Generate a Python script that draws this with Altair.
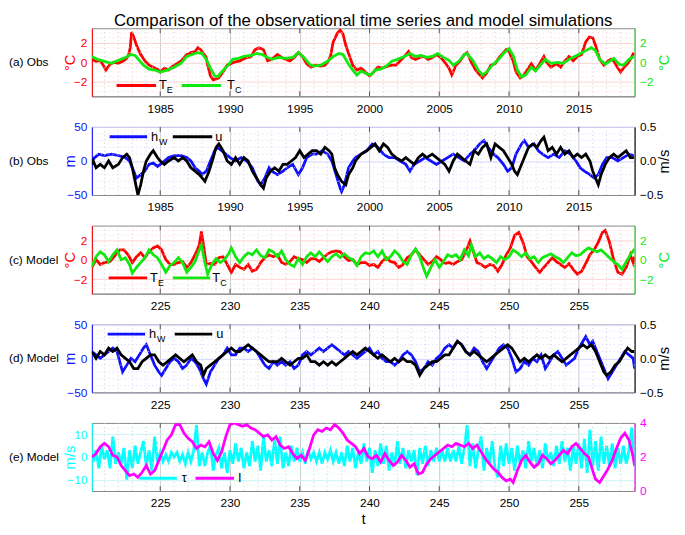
import altair as alt
import pandas as pd

TITLE = "Comparison of the observational time series and model simulations"
YEAR_TICKS = [1985, 1990, 1995, 2000, 2005, 2010, 2015]
MODEL_TICKS = [225, 230, 235, 240, 245, 250, 255]
OBS_DOMAIN = [1980.1, 2019.0]
MODEL_DOMAIN = [220.1, 259.0]

# ---------------- (a) observed SST anomalies (degC) ----------------
TE_OBS = [(1980.1,0.3),(1980.4,0.1),(1980.7,0.2),(1981.0,-0.5),(1981.1,-0.8),(1981.4,-0.2),(1981.7,0.0),
          (1982.0,-0.1),(1982.3,0.1),(1982.5,0.3),(1982.7,0.6),(1982.85,1.5),(1982.95,3.1),(1983.1,2.6),
          (1983.3,1.75),(1983.6,0.8),(1983.9,0.15),(1984.2,-0.3),(1984.5,-0.5),(1984.8,-0.7),(1985.0,-1.0),
          (1985.3,-0.6),(1985.6,-0.8),(1985.9,-0.4),(1986.2,-0.15),(1986.5,0.15),(1986.9,0.8),(1987.2,1.0),
          (1987.5,1.1),(1987.7,1.5),(1987.9,1.3),(1988.3,0.5),(1988.4,-0.3),(1988.6,-1.4),(1988.8,-1.8),
          (1989.0,-1.7),(1989.2,-1.6),(1989.5,-1.0),(1989.8,-0.3),(1990.3,0.0),(1990.7,0.15),(1991.2,0.5),
          (1991.5,0.55),(1991.8,1.3),(1992.1,1.5),(1992.4,1.3),(1992.7,0.15),(1993.0,0.3),(1993.4,0.8),
          (1993.7,0.5),(1994.0,0.3),(1994.3,0.15),(1994.6,0.5),(1994.9,1.0),(1995.2,0.6),(1995.5,-0.15),
          (1995.8,-0.5),(1996.1,-0.3),(1996.5,-0.4),(1996.8,-0.3),(1997.0,0.0),(1997.2,0.6),(1997.4,2.1),
          (1997.7,3.0),(1997.9,3.3),(1998.1,2.9),(1998.3,1.75),(1998.6,0.5),(1998.8,-0.3),(1999.1,-0.8),
          (1999.4,-0.6),(1999.7,-1.0),(2000.0,-1.4),(2000.3,-1.0),(2000.6,-0.5),(2000.9,-0.6),(2001.3,-0.4),
          (2001.6,-0.3),(2001.9,-0.3),(2002.2,0.15),(2002.5,0.6),(2002.8,1.1),(2003.0,0.5),(2003.3,0.3),
          (2003.6,0.5),(2003.9,0.6),(2004.2,0.3),(2004.5,0.5),(2004.8,0.8),(2005.1,0.5),(2005.4,0.0),
          (2005.7,-0.6),(2005.9,-1.3),(2006.2,-0.3),(2006.5,0.15),(2006.8,0.8),(2007.0,1.0),(2007.3,0.0),
          (2007.6,-0.8),(2007.9,-1.3),(2008.1,-1.6),(2008.4,-1.1),(2008.7,-0.3),(2009.0,-0.15),(2009.3,0.5),
          (2009.6,1.0),(2009.8,1.3),(2010.0,1.1),(2010.3,0.15),(2010.5,-1.0),(2010.8,-1.6),(2011.0,-1.45),
          (2011.3,-0.8),(2011.6,-0.15),(2011.9,-0.8),(2012.2,-0.15),(2012.5,0.6),(2012.7,0.0),(2013.0,-0.5),
          (2013.4,-0.15),(2013.7,-0.5),(2014.0,0.15),(2014.3,0.6),(2014.6,0.15),(2014.9,0.6),(2015.2,0.8),
          (2015.5,2.1),(2015.75,2.6),(2016.0,2.5),(2016.2,1.75),(2016.5,0.3),(2016.8,-0.3),(2017.1,0.15),
          (2017.3,0.3),(2017.5,0.15),(2017.8,-0.6),(2018.0,-1.0),(2018.2,-0.6),(2018.5,-0.15),(2018.7,0.3),
          (2018.95,1.0)]

TC_OBS = [(1980.1,0.6),(1980.5,0.3),(1981.0,0.1),(1981.5,-0.1),(1982.0,0.2),(1982.5,0.5),(1982.9,0.8),
          (1983.2,0.7),(1983.5,0.2),(1983.8,-0.3),(1984.2,-0.7),(1984.6,-0.8),(1985.0,-1.0),(1985.5,-0.8),
          (1986.0,-0.5),(1986.5,-0.1),(1986.9,0.6),(1987.3,0.8),(1987.7,1.0),(1988.0,0.9),(1988.3,0.3),
          (1988.6,-0.6),(1988.9,-1.4),(1989.1,-1.5),(1989.4,-1.0),(1989.8,-0.4),(1990.2,0.3),(1990.6,0.4),
          (1991.0,0.6),(1991.5,0.7),(1991.9,0.9),(1992.3,0.8),(1992.7,0.5),(1993.0,0.3),(1993.5,0.5),
          (1994.0,0.4),(1994.5,0.5),(1994.9,1.0),(1995.3,0.5),(1995.7,-0.2),(1996.0,-0.4),(1996.5,-0.3),
          (1997.0,0.1),(1997.4,0.6),(1997.8,0.9),(1998.1,0.8),(1998.5,-0.2),(1998.8,-0.8),(1999.1,-1.3),
          (1999.4,-0.9),(1999.8,-1.2),(2000.1,-1.3),(2000.4,-0.8),(2000.8,-0.7),(2001.2,-0.4),(2001.6,0.1),
          (2002.0,0.3),(2002.5,0.6),(2002.9,0.9),(2003.3,0.6),(2003.7,0.7),(2004.1,0.5),(2004.5,0.6),
          (2004.9,0.9),(2005.3,0.5),(2005.7,0.2),(2006.0,-0.3),(2006.4,0.1),(2006.8,0.8),(2007.0,0.9),
          (2007.4,0.2),(2007.8,-0.8),(2008.1,-1.3),(2008.4,-1.0),(2008.8,-0.3),(2009.2,0.2),(2009.6,0.9),
          (2010.0,1.4),(2010.3,0.7),(2010.6,-0.8),(2010.9,-1.5),(2011.2,-1.3),(2011.6,-0.5),(2011.9,-0.9),
          (2012.3,-0.2),(2012.6,0.3),(2013.0,-0.1),(2013.5,0.0),(2013.9,-0.1),(2014.3,0.3),(2014.7,0.6),
          (2015.0,0.8),(2015.5,1.2),(2015.9,1.5),(2016.2,1.2),(2016.5,0.3),(2016.9,-0.2),(2017.2,0.1),
          (2017.5,0.4),(2017.9,-0.2),(2018.2,-0.3),(2018.6,0.3),(2018.95,0.6)]

# ---------------- (b) observed thermocline depth (m) and current (m/s) ----------------
HW_OBS = [(1980.1,0),(1980.3,5),(1980.6,10),(1981.0,8),(1981.5,10),(1982.0,8),(1982.5,5),(1982.8,0),
          (1983.0,-10),(1983.3,-25),(1983.6,-20),(1983.9,-15),(1984.2,-5),(1984.5,-3),(1984.8,-8),(1985.0,-5),
          (1985.3,0),(1985.6,5),(1986.0,8),(1986.5,8),(1986.9,5),(1987.2,0),(1987.5,-10),(1987.8,-15),
          (1988.0,-20),(1988.3,-15),(1988.6,0),(1988.9,15),(1989.1,20),(1989.4,15),(1989.7,10),(1990.0,5),
          (1990.4,0),(1990.8,5),(1991.2,0),(1991.6,-10),(1992.0,-30),(1992.2,-35),(1992.5,-25),(1992.8,-10),
          (1993.0,-15),(1993.4,-20),(1993.8,-15),(1994.1,-10),(1994.5,-5),(1994.9,-20),(1995.2,-10),(1995.5,5),
          (1995.9,10),(1996.2,10),(1996.6,15),(1997.0,10),(1997.3,0),(1997.6,-20),(1997.9,-40),(1998.0,-45),
          (1998.2,-35),(1998.5,-10),(1998.8,0),(1999.0,5),(1999.4,10),(1999.8,15),(2000.2,25),(2000.6,20),
          (2001.0,10),(2001.4,5),(2001.8,5),(2002.2,0),(2002.6,-5),(2002.9,-15),(2003.2,-5),(2003.6,0),
          (2004.0,5),(2004.4,0),(2004.8,-5),(2005.2,0),(2005.6,5),(2006.0,10),(2006.4,5),(2006.8,0),
          (2007.2,10),(2007.5,15),(2007.9,25),(2008.2,30),(2008.5,20),(2008.9,10),(2009.2,5),(2009.6,-5),
          (2009.9,-15),(2010.2,-10),(2010.5,10),(2010.9,25),(2011.1,30),(2011.4,20),(2011.8,25),(2012.1,15),
          (2012.4,10),(2012.8,5),(2013.2,10),(2013.6,5),(2014.0,15),(2014.4,10),(2014.8,0),(2015.1,-10),
          (2015.4,-15),(2015.8,-20),(2016.1,-25),(2016.4,-20),(2016.7,-5),(2017.0,5),(2017.4,5),(2017.8,0),
          (2018.2,5),(2018.6,10),(2018.95,8)]

U_OBS = [(1980.1,-0.05),(1980.2,0.0),(1980.4,-0.10),(1980.7,-0.05),(1981.0,-0.10),(1981.3,0.0),(1981.6,-0.10),
         (1982.0,-0.05),(1982.3,0.05),(1982.6,0.10),(1982.8,0.05),(1983.0,-0.10),(1983.2,-0.30),(1983.4,-0.50),
         (1983.6,-0.35),(1983.8,-0.15),(1984.0,0.0),(1984.3,0.10),(1984.5,0.15),(1984.8,0.05),(1985.0,0.0),
         (1985.3,-0.05),(1985.6,0.0),(1986.0,0.05),(1986.3,0.0),(1986.6,0.05),(1986.9,0.0),(1987.2,-0.10),
         (1987.5,-0.15),(1987.8,-0.20),(1988.0,-0.25),(1988.2,-0.30),(1988.5,-0.15),(1988.8,0.05),(1989.0,0.20),
         (1989.2,0.25),(1989.5,0.15),(1989.8,0.0),(1990.1,-0.05),(1990.4,0.05),(1990.7,-0.05),(1991.0,0.05),
         (1991.3,0.0),(1991.6,-0.15),(1991.9,-0.25),(1992.2,-0.35),(1992.4,-0.40),(1992.6,-0.25),(1992.9,-0.15),
         (1993.2,-0.10),(1993.5,-0.15),(1993.8,-0.05),(1994.1,-0.05),(1994.4,0.0),(1994.7,0.05),(1995.0,0.15),
         (1995.3,0.05),(1995.6,0.10),(1995.9,0.15),(1996.2,0.15),(1996.5,0.10),(1996.8,0.20),(1997.1,0.15),
         (1997.3,0.10),(1997.5,-0.10),(1997.7,-0.20),(1998.0,-0.30),(1998.3,-0.35),(1998.5,-0.20),(1998.8,-0.10),
         (1999.0,0.0),(1999.4,0.10),(1999.8,0.15),(2000.1,0.20),(2000.4,0.25),(2000.7,0.15),(2001.0,0.25),
         (2001.3,0.20),(2001.6,0.10),(2001.9,0.05),(2002.3,0.0),(2002.6,0.05),(2002.9,0.0),(2003.2,-0.05),
         (2003.5,0.05),(2003.8,0.10),(2004.1,0.05),(2004.5,0.10),(2004.8,0.05),(2005.1,0.0),(2005.4,-0.05),
         (2005.7,-0.15),(2006.0,0.0),(2006.3,0.10),(2006.6,0.05),(2006.9,0.0),(2007.2,-0.05),(2007.5,0.15),
         (2007.8,0.10),(2008.1,0.20),(2008.4,0.25),(2008.7,0.05),(2009.0,0.25),(2009.3,0.20),(2009.6,0.15),
         (2009.9,0.05),(2010.2,-0.05),(2010.4,-0.15),(2010.6,-0.20),(2010.8,-0.10),(2011.1,0.05),(2011.4,0.20),
         (2011.7,0.25),(2012.0,0.20),(2012.3,0.30),(2012.5,0.35),(2012.8,0.15),(2013.1,0.20),(2013.4,0.10),
         (2013.7,0.20),(2014.0,0.10),(2014.3,0.15),(2014.6,0.05),(2014.9,0.10),(2015.2,0.05),(2015.5,0.10),
         (2015.8,0.0),(2016.0,-0.15),(2016.2,-0.25),(2016.4,-0.35),(2016.6,-0.20),(2016.9,-0.05),(2017.2,0.05),
         (2017.5,0.10),(2017.8,0.05),(2018.1,0.10),(2018.4,0.15),(2018.7,0.05),(2018.95,0.05)]

# ---------------- (c) model SST anomalies (degC) ----------------
TE_MOD = [(220.1,-0.8),(220.4,0.0),(220.7,-0.5),(221.0,-0.3),(221.4,-0.2),(221.8,0.5),(222.1,1.0),(222.4,1.0),
          (222.7,0.5),(223.0,-0.3),(223.3,0.3),(223.6,0.7),(223.9,0.2),(224.2,0.8),(224.5,1.2),(224.8,1.4),
          (225.1,1.0),(225.4,0.0),(225.7,-0.5),(226.0,-0.5),(226.3,-0.3),(226.6,-0.2),(226.9,-0.8),(227.2,-0.3),
          (227.5,0.5),(227.8,1.5),(227.95,2.9),(228.1,1.5),(228.3,-0.5),(228.6,-0.4),(228.9,-0.5),(229.2,0.2),
          (229.5,0.3),(229.8,-0.5),(230.1,-1.3),(230.4,-0.5),(230.7,-0.8),(231.0,-1.0),(231.3,-0.5),(231.6,-1.2),
          (231.9,-1.0),(232.2,-0.3),(232.5,0.2),(232.8,0.5),(233.1,0.3),(233.4,0.5),(233.7,-0.3),(234.0,-0.5),
          (234.3,-0.2),(234.6,0.3),(234.9,0.1),(235.2,0.0),(235.5,-0.3),(235.8,0.1),(236.1,0.1),(236.4,-0.2),
          (236.7,0.2),(237.0,0.6),(237.3,0.8),(237.6,0.9),(237.9,0.8),(238.2,0.3),(238.5,-0.1),(238.8,0.0),
          (239.1,-0.5),(239.4,-0.3),(239.7,-0.3),(240.0,-0.6),(240.3,-0.5),(240.6,-0.8),(240.9,-0.2),(241.2,0.2),
          (241.5,-0.2),(241.8,-0.3),(242.1,-0.8),(242.4,-0.5),(242.7,0.2),(243.0,0.5),(243.3,1.0),(243.6,0.5),
          (243.9,0.0),(244.2,-0.5),(244.5,-0.2),(244.8,0.3),(245.1,0.0),(245.4,-0.4),(245.7,-0.3),(246.0,-0.5),
          (246.3,-0.2),(246.6,0.0),(246.9,0.8),(247.2,1.9),(247.4,1.0),(247.7,-0.3),(248.0,-0.5),(248.3,-0.8),
          (248.6,-0.5),(248.9,-0.6),(249.2,-1.2),(249.5,-0.5),(249.8,0.5),(250.1,1.2),(250.4,2.5),(250.7,2.8),
          (251.0,1.8),(251.3,0.3),(251.6,-0.2),(251.9,-0.8),(252.2,-1.3),(252.5,-0.8),(252.8,-0.3),(253.1,0.2),
          (253.4,-0.2),(253.7,-0.5),(254.0,-0.8),(254.3,-0.4),(254.6,-1.0),(254.9,-1.5),(255.2,-1.2),(255.5,-0.4),
          (255.8,0.5),(256.1,1.0),(256.4,1.8),(256.7,2.8),(256.9,3.0),(257.2,1.8),(257.5,0.0),(257.8,-1.3),
          (258.1,-1.5),(258.4,-0.8),(258.7,0.5),(258.9,-0.3),(259.0,0.3)]

TC_MOD = [(220.1,-0.7),(220.4,0.3),(220.7,0.8),(221.0,0.5),(221.3,-0.2),(221.6,0.5),(221.9,1.0),(222.2,0.0),
          (222.5,0.2),(222.8,-0.5),(223.0,-1.4),(223.3,-0.8),(223.6,-0.3),(223.9,0.2),(224.2,1.0),(224.5,0.5),
          (224.8,0.2),(225.1,-0.5),(225.4,-1.3),(225.7,-0.6),(226.0,-0.3),(226.3,0.2),(226.6,-0.3),(226.9,-1.3),
          (227.2,-0.8),(227.5,-0.2),(227.8,1.0),(227.95,1.5),(228.2,-0.3),(228.4,-1.5),(228.7,-0.5),(229.0,0.1),
          (229.3,-0.3),(229.6,0.0),(229.9,0.6),(230.1,1.2),(230.4,0.3),(230.7,-0.3),(231.0,0.3),(231.3,0.7),
          (231.6,0.5),(231.9,1.0),(232.2,0.4),(232.5,0.2),(232.8,1.0),(233.1,0.8),(233.4,0.3),(233.7,0.9),
          (234.0,0.0),(234.3,-0.5),(234.6,-0.7),(234.9,0.1),(235.2,-0.5),(235.5,0.3),(235.8,0.7),(236.1,0.3),
          (236.4,0.8),(236.7,0.3),(237.0,-0.2),(237.3,0.3),(237.6,0.6),(237.9,0.2),(238.2,0.6),(238.5,0.2),
          (238.8,0.0),(239.1,-0.6),(239.4,0.3),(239.7,0.7),(240.0,0.6),(240.3,0.9),(240.6,0.3),(240.9,0.9),
          (241.2,0.0),(241.5,0.3),(241.8,0.9),(242.1,0.5),(242.4,-0.2),(242.7,-0.5),(243.0,0.5),(243.3,1.1),
          (243.6,0.3),(243.9,-1.0),(244.1,-1.7),(244.4,-0.8),(244.7,0.0),(245.0,-0.8),(245.3,-0.2),(245.6,0.5),
          (245.9,0.3),(246.2,0.5),(246.5,0.0),(246.8,1.0),(247.1,0.4),(247.3,1.5),(247.6,0.3),(247.9,0.7),
          (248.2,0.1),(248.5,0.4),(248.8,0.1),(249.1,-0.3),(249.4,0.3),(249.7,0.0),(250.0,0.3),(250.3,1.0),
          (250.6,0.7),(250.9,0.3),(251.2,0.7),(251.5,0.1),(251.8,0.3),(252.1,-0.3),(252.4,0.2),(252.7,0.4),
          (253.0,0.6),(253.3,0.3),(253.6,0.1),(253.9,-0.3),(254.2,0.2),(254.5,0.7),(254.8,0.4),(255.1,0.5),
          (255.4,0.9),(255.7,1.2),(256.0,1.0),(256.3,0.8),(256.6,1.0),(256.9,0.6),(257.2,0.2),(257.5,-0.2),
          (257.8,-0.5),(258.1,-1.0),(258.4,-0.2),(258.7,0.5),(259.0,1.1)]

# ---------------- (d) model thermocline depth (m) and current (m/s) ----------------
HW_MOD = [(220.1,10),(220.4,5),(220.7,0),(221.0,5),(221.3,10),(221.6,15),(221.9,10),(222.1,-5),(222.3,-20),
          (222.6,-10),(222.9,0),(223.2,-5),(223.5,5),(223.8,15),(224.0,20),(224.3,5),(224.6,-10),(224.9,-20),
          (225.1,-25),(225.4,-15),(225.7,-5),(226.0,0),(226.3,-5),(226.6,-15),(226.9,-10),(227.2,0),(227.5,-5),
          (227.8,-15),(228.1,-30),(228.3,-38),(228.6,-20),(228.9,-10),(229.2,0),(229.5,5),(229.8,15),(230.1,5),
          (230.4,5),(230.7,15),(231.0,15),(231.3,10),(231.6,15),(231.9,10),(232.2,0),(232.5,-10),(232.8,-15),
          (233.1,-5),(233.4,-10),(233.7,-5),(234.0,-10),(234.3,-5),(234.6,-15),(234.9,-10),(235.2,5),(235.5,10),
          (235.8,5),(236.1,10),(236.4,15),(236.7,10),(237.0,15),(237.3,20),(237.6,15),(237.9,10),(238.2,5),
          (238.5,10),(238.8,5),(239.1,0),(239.4,5),(239.7,10),(240.0,15),(240.3,5),(240.6,10),(240.9,0),
          (241.2,-5),(241.5,-5),(241.8,-10),(242.1,-5),(242.4,5),(242.7,10),(243.0,5),(243.3,-5),(243.6,-20),
          (243.9,-15),(244.2,-5),(244.5,-10),(244.8,0),(245.1,5),(245.4,15),(245.7,20),(246.0,15),(246.3,25),
          (246.6,20),(246.9,10),(247.2,5),(247.5,15),(247.8,10),(248.1,-5),(248.4,-15),(248.7,-5),(249.0,5),
          (249.3,15),(249.6,20),(249.9,15),(250.2,0),(250.5,-20),(250.8,-15),(251.1,-5),(251.4,-10),(251.7,0),
          (252.0,-5),(252.3,5),(252.6,-15),(252.9,-5),(253.2,5),(253.5,10),(253.8,0),(254.1,-10),(254.4,-5),
          (254.7,0),(255.0,15),(255.3,25),(255.5,32),(255.8,20),(256.0,25),(256.3,10),(256.6,-5),(256.9,-20),
          (257.1,-30),(257.4,-20),(257.7,-10),(258.0,0),(258.3,10),(258.6,5),(258.9,0),(259.0,-15)]

U_MOD = [(220.1,0.10),(220.4,0.0),(220.7,0.10),(221.0,0.05),(221.3,0.15),(221.6,0.10),(221.9,0.15),(222.2,0.05),
         (222.5,0.0),(222.8,-0.05),(223.1,-0.15),(223.4,-0.15),(223.7,-0.05),(224.0,0.0),(224.3,0.05),(224.6,0.05),
         (224.9,-0.05),(225.2,-0.10),(225.5,-0.05),(225.8,0.0),(226.1,0.05),(226.4,0.0),(226.7,-0.05),(227.0,0.0),
         (227.3,0.05),(227.6,-0.05),(227.9,-0.10),(228.1,-0.25),(228.3,-0.15),(228.6,-0.10),(228.9,-0.05),(229.2,0.0),
         (229.5,0.05),(229.8,0.10),(230.1,0.15),(230.4,0.10),(230.7,0.10),(231.0,0.15),(231.3,0.20),(231.6,0.15),
         (231.9,0.10),(232.2,0.05),(232.5,0.0),(232.8,-0.05),(233.1,-0.05),(233.4,-0.05),(233.7,0.0),(234.0,-0.05),
         (234.3,-0.10),(234.6,-0.05),(234.9,0.0),(235.2,0.0),(235.5,0.05),(235.8,-0.05),(236.1,-0.05),(236.4,-0.10),
         (236.7,-0.05),(237.0,-0.10),(237.3,-0.05),(237.6,-0.10),(237.9,-0.05),(238.2,0.0),(238.5,0.05),(238.8,0.10),
         (239.1,0.05),(239.4,0.10),(239.7,0.15),(240.0,0.10),(240.3,0.05),(240.6,0.0),(240.9,0.05),(241.2,0.0),
         (241.5,-0.05),(241.8,0.0),(242.1,-0.05),(242.4,0.0),(242.7,-0.05),(243.0,-0.05),(243.3,-0.10),(243.6,-0.25),
         (243.9,-0.15),(244.2,-0.10),(244.5,-0.05),(244.8,-0.05),(245.1,0.0),(245.4,0.05),(245.7,0.05),(246.0,0.15),
         (246.3,0.25),(246.6,0.20),(246.9,0.10),(247.2,0.05),(247.5,0.10),(247.8,0.05),(248.1,0.0),(248.4,-0.05),
         (248.7,0.0),(249.0,0.05),(249.3,0.10),(249.6,0.15),(249.9,0.20),(250.2,0.15),(250.5,0.05),(250.8,-0.05),
         (251.1,0.0),(251.4,-0.05),(251.7,0.0),(252.0,0.05),(252.3,0.0),(252.6,0.05),(252.9,0.0),(253.2,0.05),
         (253.5,0.0),(253.8,-0.05),(254.1,0.0),(254.4,0.05),(254.7,0.10),(255.0,0.15),(255.3,0.20),(255.6,0.15),
         (255.9,0.20),(256.2,0.10),(256.5,-0.05),(256.8,-0.20),(257.0,-0.25),(257.3,-0.20),(257.6,-0.10),(257.9,-0.05),
         (258.2,0.05),(258.5,0.15),(258.8,0.10),(259.0,0.10)]

# ---------------- (e) model wind stress tau (m/s) and I ----------------
TAU_START = 220.2
TAU_STEP = 0.2
TAU = [-2, 3, -5, 5, -1,   3, -5, 9, -3, 2,    -3, 4, -10, 3, -5,   5, -3, 2, 7, -4,
       3, -6, 9, -2, 2,    -2, 1, -2, 2, 0,    2, -2, 1, -3, 2,     -2, 3, 14, -4, 2,
       -4, 2, 5, -6, 1,    4, -5, 2, -7, 3,    -3, 6, -2, 4, -5,    2, -4, 7, -2, 5,
       -6, 9, -2, 3, -4,   8, -3, 9, -5, 2,    -4, 5, -2, 4, -2,    2, -3, 3, -1, 2,
       -2, 2, -3, 2, -1,   3, -2, 2, -3, 2,    -4, 5, -2, 4, -5,    2, -3, 6, -2, 4,
       -7, 3, -4, 6, -3,   5, -6, 2, -4, 7,    -3, 4, -5, 3, -2,    3, -8, 4, -3, 5,
       -4, 3, -2, 4, -2,   3, -2, 4, -2, 3,    -2, 5, -3, 4, 14,    -4, 6, -5, 3, 9,
       -6, 4, -3, 7, -5,   -9, 5, -4, 6, -3,   4, -6, 5, -3, 3,     -5, 7, -2, 4, -4,
       3, -5, 6, -2, 2,    -4, 5, -3, 7, -2,   4, -6, 5, -3, 6,     -5, 8, -7, 12, -4,
       7, -6, 9, -3, 5,    -4, 6, -5, 4, -3,   5, -3, 3, 13, -4]

I_MOD = [(220.1,2.0),(220.4,2.2),(220.7,2.6),(221.0,2.8),(221.3,2.6),(221.6,2.1),(221.9,2.0),(222.2,1.5),
         (222.5,1.2),(222.8,0.9),(223.1,1.0),(223.4,0.8),(223.7,1.1),(224.0,1.5),(224.3,1.0),(224.6,1.2),
         (224.9,1.8),(225.2,2.4),(225.5,3.0),(225.8,3.3),(226.1,3.9),(226.4,3.9),(226.7,3.4),(227.0,3.1),
         (227.3,2.9),(227.6,2.5),(227.9,2.7),(228.2,2.6),(228.5,2.9),(228.8,2.2),(229.1,1.8),(229.4,2.3),
         (229.7,3.2),(230.0,3.9),(230.3,4.0),(230.6,3.9),(230.9,3.8),(231.2,3.9),(231.5,3.7),(231.8,3.6),
         (232.1,3.4),(232.4,3.2),(232.7,3.3),(233.0,3.0),(233.3,3.2),(233.6,2.7),(233.9,2.5),(234.2,2.6),
         (234.5,2.2),(234.8,1.9),(235.1,2.1),(235.4,1.8),(235.7,2.5),(236.0,3.3),(236.3,3.6),(236.6,3.5),
         (236.9,3.7),(237.2,3.6),(237.5,3.9),(237.8,3.7),(238.1,3.4),(238.4,3.0),(238.7,2.8),(239.0,2.6),
         (239.3,2.2),(239.6,2.5),(239.9,2.0),(240.2,1.9),(240.5,2.1),(240.8,1.7),(241.1,2.2),(241.4,1.8),
         (241.7,1.5),(242.0,1.7),(242.3,2.1),(242.6,1.8),(242.9,1.4),(243.2,1.6),(243.5,1.0),(243.8,1.1),
         (244.1,1.6),(244.4,1.9),(244.7,2.1),(245.0,2.3),(245.3,2.5),(245.6,2.7),(245.9,2.6),(246.2,2.8),
         (246.5,2.7),(246.8,2.6),(247.1,2.8),(247.4,2.5),(247.7,2.7),(248.0,2.3),(248.3,1.9),(248.6,1.6),
         (248.9,1.3),(249.2,1.1),(249.5,0.8),(249.8,0.6),(250.1,0.7),(250.3,0.5),(250.6,1.2),(250.9,1.8),
         (251.2,2.1),(251.5,1.7),(251.8,1.4),(252.1,1.6),(252.4,2.1),(252.7,1.9),(253.0,1.6),(253.3,1.8),
         (253.6,2.1),(253.9,2.4),(254.2,2.2),(254.5,2.6),(254.8,2.8),(255.1,2.5),(255.4,2.2),(255.7,2.0),
         (256.0,1.2),(256.2,0.7),(256.5,0.5),(256.8,0.9),(257.1,1.3),(257.4,1.8),(257.7,2.5),(258.0,3.1),
         (258.3,3.4),(258.6,3.0),(258.9,2.0),(259.0,1.5)]

# ---------------- styling ----------------
W, H = 550, 69
SPACING = 31
FONT = "Liberation Sans"
RED, GREEN, BLUE, BLACK = "#ff0000", "#10e810", "#1010ff", "#000000"
CYAN, MAGENTA = "#00ffff", "#ff00ff"
VGRID_MAJOR = "#cccccc"
VGRID_MINOR = "#c4c4c4"
LW = 2.8
ONE = pd.DataFrame({"k": [0]})


def pairs_df(pairs):
    return pd.DataFrame(pairs, columns=["t", "v"])


def legend_layers(items, y):
    """items: list of (x0, x1, color, main_text, sub_text, text_x)"""
    out = []
    for x0, x1, col, main, sub, tx in items:
        out.append(alt.Chart(ONE).mark_rule(color=col, strokeWidth=3).encode(
            x=alt.value(x0), x2=alt.value(x1), y=alt.value(y)))
        out.append(alt.Chart(ONE).mark_text(text=main, align="left", baseline="middle",
                                             fontSize=13, font=FONT, color="black").encode(
            x=alt.value(tx), y=alt.value(y)))
        if sub:
            out.append(alt.Chart(ONE).mark_text(text=sub, align="left", baseline="middle",
                                                 fontSize=9, font=FONT, color="black").encode(
                x=alt.value(tx + 8), y=alt.value(y + 5)))
    return out


def panel(label, xdom, xticks, minor_x, left, right, legend, xtitle=None, title=None):
    xs = alt.Scale(domain=xdom, nice=False, zero=False)
    (ldf, lcol, ldom, lticks, lminor, ltitle, lgrid) = left
    (rdf, rcol, rdom, rticks, rtitle) = right
    ys_l = alt.Scale(domain=ldom, nice=False, zero=False)
    ys_r = alt.Scale(domain=rdom, nice=False, zero=False)

    xaxis = alt.Axis(values=xticks, format="d", grid=True, gridColor=VGRID_MAJOR, gridWidth=1,
                     ticks=False, domainColor="#888888", labelColor="black", labelFontSize=12,
                     labelPadding=7, labelFont=FONT,
                     title=xtitle if xtitle else None, titleFontSize=14, titleFontWeight="normal",
                     titleFont=FONT, titlePadding=4, titleColor="black")
    laxis = alt.Axis(values=lticks, grid=True, gridColor=lgrid, gridWidth=1, ticks=False,
                     domainColor=lcol, labelColor=lcol, labelFontSize=12, labelFont=FONT, labelPadding=5,
                     title=ltitle, titleColor=lcol, titleFontSize=15, titleFontWeight="normal",
                     titleFont=FONT, titleAngle=270, titleX=-18, titleY=H / 2,
                     titleAlign="center", titleBaseline="alphabetic")
    raxis_kw = dict(orient="right", values=rticks, grid=False, ticks=False, domainColor=rcol,
                    labelColor=rcol, labelFontSize=12, labelFont=FONT, labelPadding=5)
    if rtitle:
        raxis_kw.update(title=rtitle, titleColor=rcol, titleFontSize=15, titleFontWeight="normal",
                        titleFont=FONT, titleAngle=270, titleX=34, titleY=H / 2,
                        titleAlign="center", titleBaseline="alphabetic")
    else:
        raxis_kw.update(title=None)
    raxis = alt.Axis(**raxis_kw)

    X = lambda f: alt.X(f, scale=xs, axis=xaxis)
    YL = lambda f: alt.Y(f, scale=ys_l, axis=laxis)

    lline = alt.Chart(ldf).mark_line(color=lcol, strokeWidth=LW, clip=True).encode(
        x=X("t:Q"), y=YL("v:Q"))
    vminor = alt.Chart(pd.DataFrame({"t": minor_x})).mark_rule(
        color=VGRID_MINOR, strokeDash=[1, 3], strokeWidth=0.8).encode(x=X("t:Q"))
    hminor = alt.Chart(pd.DataFrame({"v": lminor})).mark_rule(
        color=lgrid, strokeDash=[1, 3], strokeWidth=0.9).encode(y=YL("v:Q"))
    tick_top = alt.Chart(pd.DataFrame({"t": xticks})).mark_rule(color="#555555", strokeWidth=1).encode(
        x=X("t:Q"), y=alt.value(0), y2=alt.value(5))
    tick_bot = alt.Chart(pd.DataFrame({"t": xticks})).mark_rule(color="#555555", strokeWidth=1).encode(
        x=X("t:Q"), y=alt.value(H - 5), y2=alt.value(H))
    rline = alt.Chart(rdf).mark_line(color=rcol, strokeWidth=LW, clip=True).encode(
        x=X("t:Q"), y=alt.Y("v:Q", scale=ys_r, axis=raxis))

    left_group = alt.layer(lline, vminor, hminor, tick_top, tick_bot)
    lab = alt.Chart(ONE).mark_text(text=label, align="left", baseline="middle", fontSize=12,
                                   font=FONT, color="black").encode(
        x=alt.value(-84), y=alt.value(H / 2))
    leg = legend_layers(legend[0], legend[1])
    ch = alt.layer(left_group, rline, lab, *leg).resolve_scale(y="independent")
    props = dict(width=W, height=H)
    if title:
        props["title"] = alt.TitleParams(title, fontSize=17, fontWeight="normal", font=FONT,
                                         anchor="middle", offset=-2, color="black")
    return ch.properties(**props)


minor_years = [y for y in range(1981, 2019) if y % 5]
minor_model = [y for y in range(221, 259) if y % 5]
sst_minor = [v / 2 for v in range(-6, 7) if v not in (-4, 0, 4)]
m_minor = [v for v in range(-40, 41, 10) if v != 0]
tau_minor = [-12.5, -7.5, -5, -2.5, 2.5, 5, 7.5, 12.5]

PINK_GRID = "#ffd2d2"
BLUE_GRID = "#d2d2ff"
CYAN_GRID = "#c8f4f4"

tau_df = pd.DataFrame({"t": [round(TAU_START + TAU_STEP * i, 2) for i in range(len(TAU))], "v": TAU})

pa = panel("(a) Obs", OBS_DOMAIN, YEAR_TICKS, minor_years,
           (pairs_df(TE_OBS), RED, [-3.5, 3.5], [-2, 0, 2], sst_minor, "°C", PINK_GRID),
           (pairs_df(TC_OBS), GREEN, [-3.5, 3.5], [-2, 0, 2], "°C"),
           ([(25, 65, RED, "T", "E", 68), (91, 131, GREEN, "T", "C", 137)], 58),
           title=TITLE)
pb = panel("(b) Obs", OBS_DOMAIN, YEAR_TICKS, minor_years,
           (pairs_df(HW_OBS), BLUE, [-50, 50], [-50, 0, 50], m_minor, "m", BLUE_GRID),
           (pairs_df(U_OBS), BLACK, [-0.5, 0.5], [-0.5, 0, 0.5], "m/s"),
           ([(18, 56, BLUE, "h", "W", 60), (82, 122, BLACK, "u", None, 125)], 10))
pc = panel("(c) Model", MODEL_DOMAIN, MODEL_TICKS, minor_model,
           (pairs_df(TE_MOD), RED, [-3.5, 3.5], [-2, 0, 2], sst_minor, "°C", PINK_GRID),
           (pairs_df(TC_MOD), GREEN, [-3.5, 3.5], [-2, 0, 2], "°C"),
           ([(17, 56, RED, "T", "E", 59), (82, 120, GREEN, "T", "C", 122)], 53))
pd_ = panel("(d) Model", MODEL_DOMAIN, MODEL_TICKS, minor_model,
            (pairs_df(HW_MOD), BLUE, [-50, 50], [-50, 0, 50], m_minor, "m", BLUE_GRID),
            (pairs_df(U_MOD), BLACK, [-0.5, 0.5], [-0.5, 0, 0.5], "m/s"),
            ([(16, 54, BLUE, "h", "W", 58), (84, 122, BLACK, "u", None, 126)], 10))
pe = panel("(e) Model", MODEL_DOMAIN, MODEL_TICKS, minor_model,
           (tau_df, CYAN, [-15, 15], [-10, 0, 10], tau_minor, "m/s", CYAN_GRID),
           (pairs_df(I_MOD), MAGENTA, [0, 4], [0, 2, 4], None),
           ([(48, 86, CYAN, "τ", None, 91), (105, 144, MAGENTA, "I", None, 148)], 56),
           xtitle="t")

chart = alt.vconcat(pa, pb, pc, pd_, pe, spacing=SPACING, bounds="flush").properties(
    padding={"left": 0, "top": 0, "right": 5, "bottom": 0}
).configure(font=FONT).configure_view(stroke="#888888", strokeWidth=1)

chart.save("out.html", embed_options={"renderer": "svg", "actions": False})
